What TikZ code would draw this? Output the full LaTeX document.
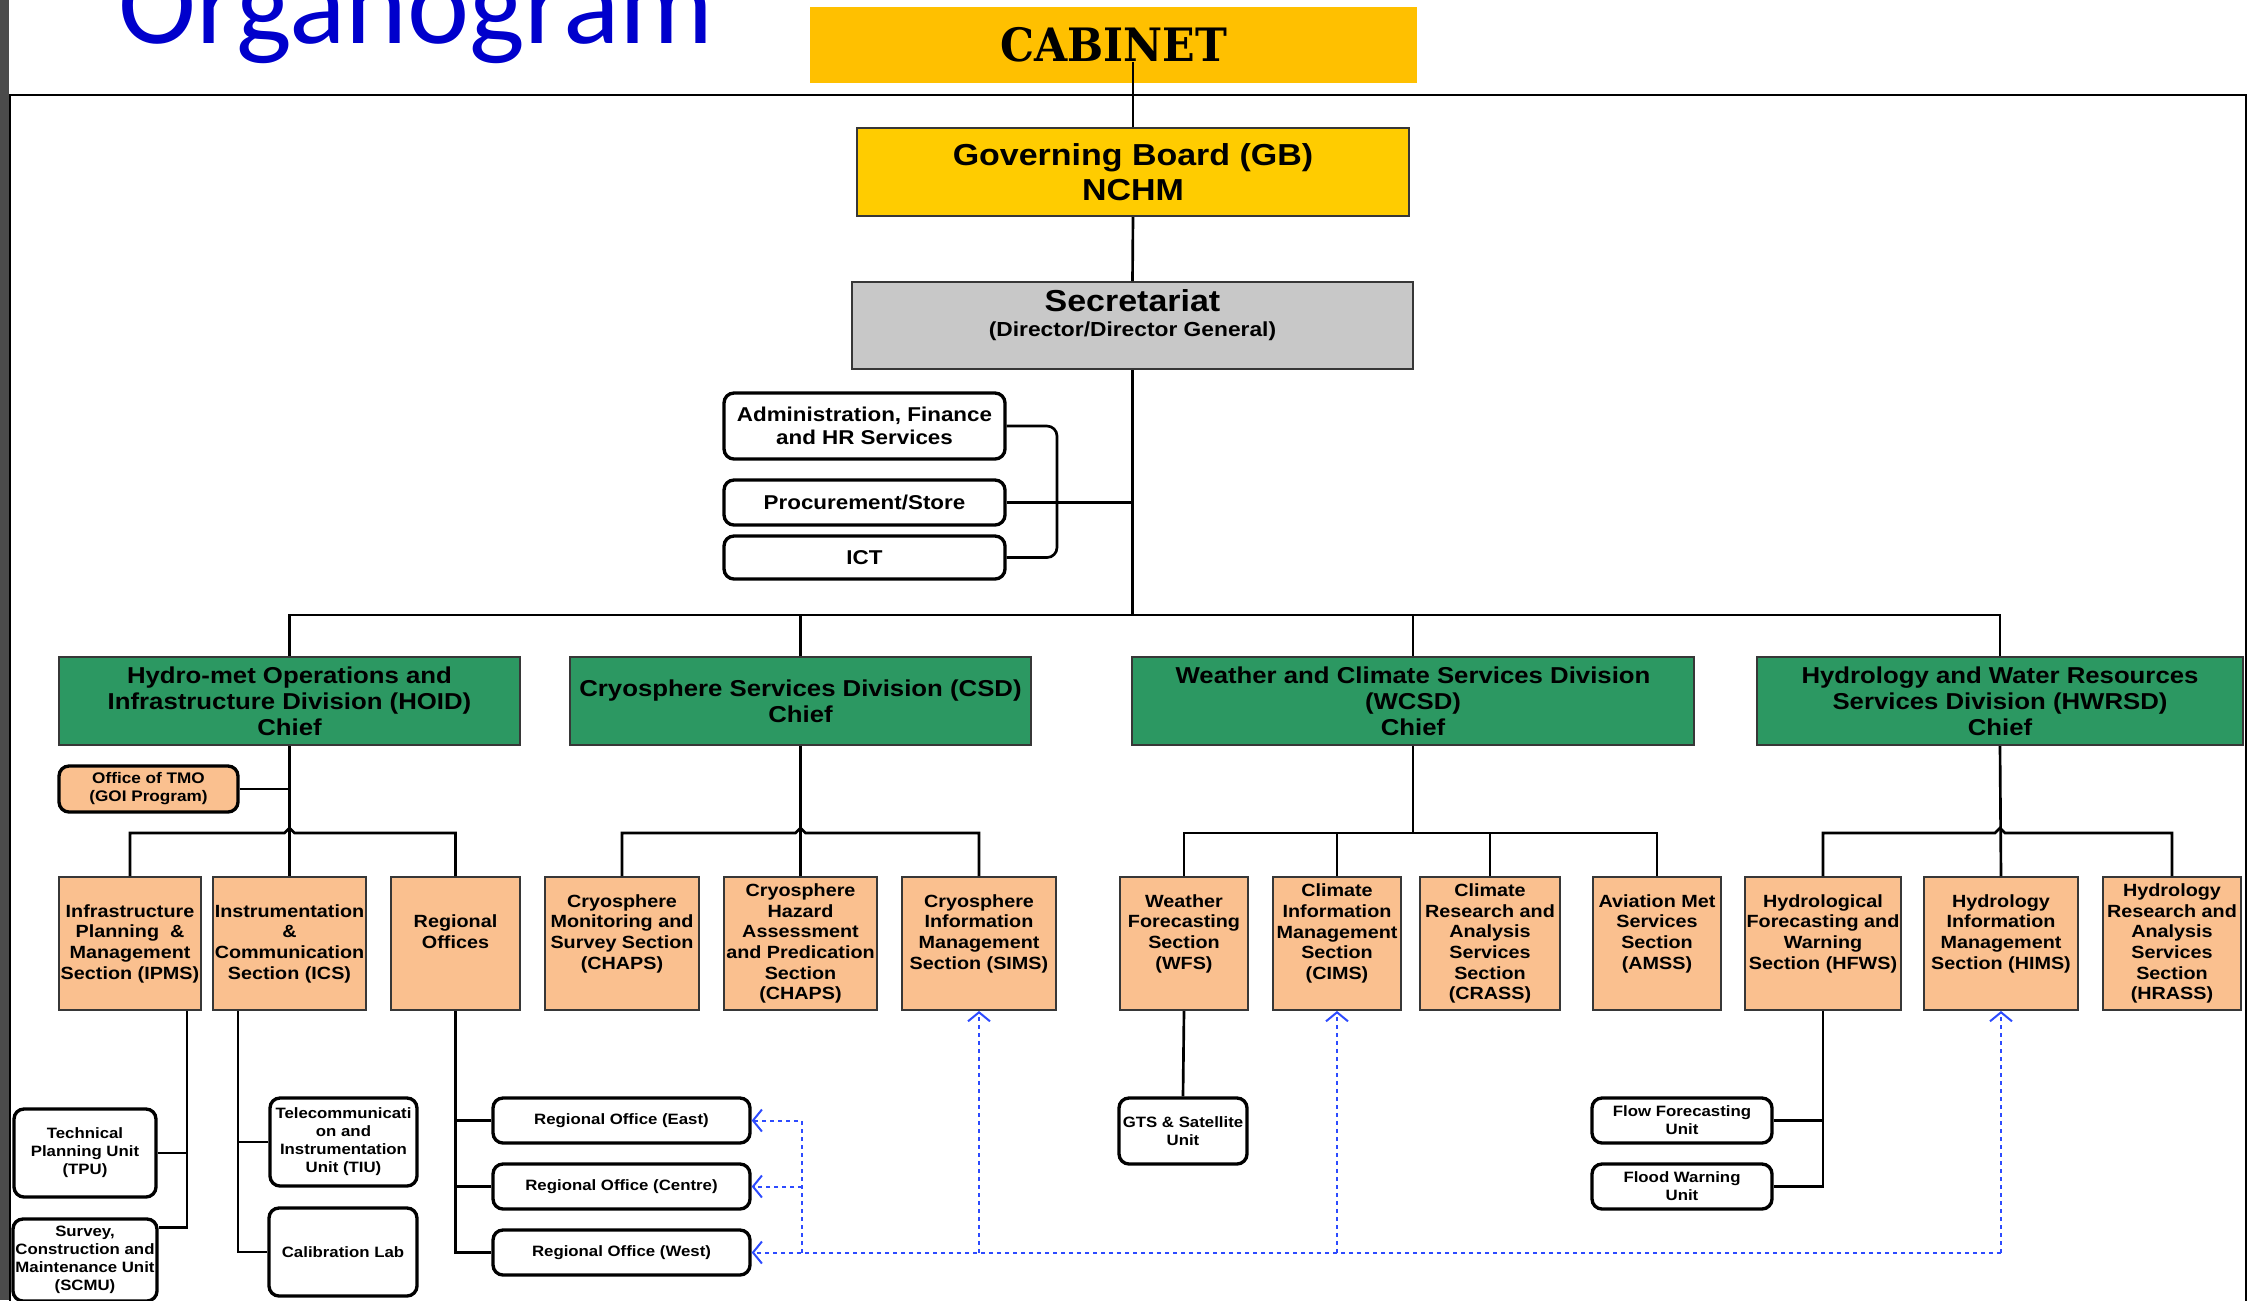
\documentclass[tikz,border=0pt]{standalone}
\usepackage{fontspec}
\usepackage{tikz}
\usetikzlibrary{arrows.meta,calc}
\newfontfamily\chartfont{Liberation Sans}[FakeStretch=1.12]
\newfontfamily\titlefont{Carlito}
\newfontfamily\cabfont{DejaVu Serif}[FakeStretch=0.93]
\definecolor{titleblue}{RGB}{0,0,204}
\definecolor{cabyellow}{RGB}{255,192,0}
\definecolor{gbyellow}{RGB}{255,204,0}
\definecolor{secgray}{RGB}{200,200,200}
\definecolor{divgreen}{RGB}{44,152,98}
\definecolor{sectorange}{RGB}{250,192,143}
\definecolor{linkblue}{RGB}{45,75,255}
\definecolor{edgegray}{RGB}{55,55,55}
\definecolor{stripgray}{RGB}{75,75,75}
\newcommand{\pxu}{0.3pt}
\newcommand{\gbfont}{\chartfont\bfseries\fontsize{9.1pt}{10.5pt}\selectfont}
\newcommand{\secbig}{\chartfont\bfseries\fontsize{9.1pt}{10.5pt}\selectfont}
\newcommand{\secsmall}{\chartfont\bfseries\fontsize{6.1pt}{7.5pt}\selectfont}
\newcommand{\admfont}{\chartfont\bfseries\fontsize{6.0pt}{6.8pt}\selectfont}
\newcommand{\divfont}{\chartfont\bfseries\fontsize{6.9pt}{7.8pt}\selectfont}
\newcommand{\sectfont}{\chartfont\bfseries\fontsize{5.3pt}{6.2pt}\selectfont}
\newcommand{\tmofont}{\chartfont\bfseries\fontsize{4.6pt}{5.4pt}\selectfont}
\newcommand{\unitfont}{\chartfont\bfseries\fontsize{4.5pt}{5.4pt}\selectfont}
\tikzstyle{conn}=[black,line width=0.8pt]
\tikzstyle{infolink}=[linkblue,line width=0.6pt,dash pattern=on 1.2pt off 1.2pt,-{Straight Barb[length=2.7pt,width=6.6pt]}]
\tikzstyle{plainbox}=[rectangle,draw=edgegray,line width=0.6pt,inner sep=0pt,align=center]
\tikzstyle{divbox}=[plainbox,fill=divgreen,font=\divfont]
\tikzstyle{sectbox}=[plainbox,fill=sectorange,font=\sectfont]
\tikzstyle{raised}=[text depth=7.1pt]
\tikzstyle{unitbox}=[rectangle,rounded corners=3pt,draw=black,line width=1pt,fill=white,inner sep=0pt,align=center,font=\unitfont]
\tikzset{wh/.style 2 args={minimum width=#1*\pxu,minimum height=#2*\pxu}}

\begin{document}
\begin{tikzpicture}[x=\pxu,y=-\pxu]

\useasboundingbox (0,0) rectangle (2248,1300);
\fill[stripgray] (0,0) rectangle (9,1300);
\draw[line width=0.6pt] (10,1310) -- (10,95) -- (2246,95) -- (2246,1310);

\node[anchor=base west,inner sep=0pt,text=titleblue,font=\titlefont\fontsize{35.3pt}{40pt}\selectfont] (title) at (118,43) {Organogram};
\node[fill=cabyellow,inner sep=0pt,wh={607}{76},font=\cabfont\bfseries\fontsize{13.8pt}{16pt}\selectfont] (cabinet) at (1113.5,45) {CABINET};

% board and secretariat
\node[plainbox,fill=gbyellow,wh={552}{88},font=\gbfont] (gb) at (1133,172) {Governing Board (GB)\\NCHM};
\node[plainbox,fill=secgray,wh={561}{87},font=\secsmall,text depth=7.3pt] (sec) at (1132.5,325.5) {{\secbig Secretariat}\\(Director/Director General)};
\node[unitbox,wh={281}{66},font=\admfont] (admin) at (864.5,426) {Administration, Finance\\and HR Services};
\node[unitbox,wh={281}{45},font=\admfont] (proc) at (864.5,502.5) {Procurement/Store};
\node[unitbox,wh={281}{43},font=\admfont] (ict) at (864.5,557.5) {ICT};

% divisions
\node[divbox,wh={461}{88}] (hoid) at (289.5,701) {Hydro-met Operations and\\Infrastructure Division (HOID)\\Chief};
\node[divbox,wh={461}{88}] (csd) at (800.5,701) {Cryosphere Services Division (CSD)\\Chief};
\node[divbox,wh={562}{88}] (wcsd) at (1413,701) {Weather and Climate Services Division\\(WCSD)\\Chief};
\node[divbox,wh={486}{88}] (hwrsd) at (2000,701) {Hydrology and Water Resources\\Services Division (HWRSD)\\Chief};
\node[unitbox,fill=sectorange,wh={179}{46},font=\tmofont] (tmo) at (148.5,789) {Office of TMO\\(GOI Program)};

% sections
\node[sectbox,wh={142}{133}] (ipms) at (130,943.5) {Infrastructure\\Planning\ \ \&\\Management\\Section (IPMS)};
\node[sectbox,wh={153}{133}] (ics) at (289.5,943.5) {Instrumentation\\\&\\Communication\\Section (ICS)};
\node[sectbox,raised,wh={129}{133}] (reg) at (455.5,943.5) {Regional\\Offices};
\node[sectbox,raised,wh={154}{133}] (chaps1) at (622,943.5) {Cryosphere\\Monitoring and\\Survey Section\\(CHAPS)};
\node[sectbox,wh={153}{133}] (chaps2) at (800.5,943.5) {Cryosphere\\Hazard\\Assessment\\and Predication\\Section\\(CHAPS)};
\node[sectbox,raised,wh={154}{133}] (sims) at (979,943.5) {Cryosphere\\Information\\Management\\Section (SIMS)};
\node[sectbox,raised,wh={128}{133}] (wfs) at (1184,943.5) {Weather\\Forecasting\\Section\\(WFS)};
\node[sectbox,raised,wh={128}{133}] (cims) at (1337,943.5) {Climate\\Information\\Management\\Section\\(CIMS)};
\node[sectbox,wh={140}{133}] (crass) at (1490,943.5) {Climate\\Research and\\Analysis\\Services\\Section\\(CRASS)};
\node[sectbox,raised,wh={128}{133}] (amss) at (1657,943.5) {Aviation Met\\Services\\Section\\(AMSS)};
\node[sectbox,raised,wh={156}{133}] (hfws) at (1823,943.5) {Hydrological\\Forecasting and\\Warning\\Section (HFWS)};
\node[sectbox,raised,wh={154}{133}] (hims) at (2001,943.5) {Hydrology\\Information\\Management\\Section (HIMS)};
\node[sectbox,wh={138}{133}] (hrass) at (2172,943.5) {Hydrology\\Research and\\Analysis\\Services\\Section\\(HRASS)};

% units
\node[unitbox,wh={142}{88}] (tpu) at (85,1153) {Technical\\Planning Unit\\(TPU)};
\node[unitbox,wh={144}{82}] (scmu) at (85,1260) {Survey,\\Construction and\\Maintenance Unit\\(SCMU)};
\node[unitbox,wh={147}{88}] (tiu) at (343.5,1142) {Telecommunicati\\on and\\Instrumentation\\Unit (TIU)};
\node[unitbox,wh={148}{88}] (cal) at (343,1252) {Calibration Lab};
\node[unitbox,wh={257}{45}] (east) at (621.5,1120.5) {Regional Office (East)};
\node[unitbox,wh={257}{45}] (centre) at (621.5,1186.5) {Regional Office (Centre)};
\node[unitbox,wh={257}{45}] (west) at (621.5,1252.5) {Regional Office (West)};
\node[unitbox,wh={128}{66}] (gts) at (1183,1131) {GTS \& Satellite\\Unit};
\node[unitbox,wh={180}{45}] (flowf) at (1682,1120.5) {Flow Forecasting\\Unit};
\node[unitbox,wh={180}{45}] (floodw) at (1682,1186.5) {Flood Warning\\Unit};

% upper connectors
\coordinate (bus) at (0,615);
\coordinate (sbus) at (0,833);
\coordinate (brk) at (1057,502);
\draw[conn] (gb.north) -- (gb.north |- cabinet.base);
\draw[conn] (gb.south) -- (sec.north);
\draw[conn] (sec.south) -- (sec.south |- bus);
\draw[conn,rounded corners=3pt] (admin.east) -| (brk) |- (ict.east);
\draw[conn] (proc.east) -- (proc.east -| sec.south);
\draw[conn] (hoid.north) |- (hwrsd.north |- bus) -- (hwrsd.north);
\draw[conn] (csd.north) -- (csd.north |- bus);
\draw[conn] (wcsd.north) -- (wcsd.north |- bus);
\draw[conn] (tmo.east) -- (tmo.east -| hoid.south);

% section buses
\draw[conn] (ipms.north) |- (284.5,833) -- (289.5,828) -- (294.5,833) -| (reg.north);
\draw[conn] (hoid.south) -- (ics.north);
\draw[conn] (chaps1.north) |- (795.5,833) -- (800.5,828) -- (805.5,833) -| (sims.north);
\draw[conn] (csd.south) -- (chaps2.north);
\draw[conn] (wfs.north) |- (amss.north |- sbus) -- (amss.north);
\draw[conn] (wcsd.south) -- (wcsd.south |- sbus);
\draw[conn] (cims.north) -- (cims.north |- sbus);
\draw[conn] (crass.north) -- (crass.north |- sbus);
\draw[conn] (hfws.north) |- (1995,833) -- (2000,828) -- (2005,833) -| (hrass.north);
\draw[conn] (hwrsd.south) -- (hims.north);

% unit legs
\coordinate (ipmsleg) at (187,0);
\coordinate (icsleg) at (238,0);
\draw[conn] (ipms.south -| ipmsleg) |- ($(scmu.north east)+(0,10)$);
\draw[conn] (tpu.east) -- (tpu.east -| ipmsleg);
\draw[conn] (ics.south -| icsleg) |- (cal.west);
\draw[conn] (tiu.west) -- (tiu.west -| icsleg);
\draw[conn] (reg.south) |- (west.west);
\draw[conn] (east.west) -- (east.west -| reg.south);
\draw[conn] (centre.west) -- (centre.west -| reg.south);
\draw[conn] (wfs.south) -- (gts.north);
\draw[conn] (hfws.south) |- (floodw.east);
\draw[conn] (flowf.east) -- (flowf.east -| hfws.south);

% information links
\coordinate (dturn) at (802,1252.5);
\draw[infolink] (hims.south |- west.east) -- (west.east);
\draw[infolink] (hims.south |- west.east) -- (hims.south);
\draw[infolink] (sims.south |- west.east) -- (sims.south);
\draw[infolink] (cims.south |- west.east) -- (cims.south);
\draw[infolink] (dturn) |- (east.east);
\draw[infolink] (dturn |- centre.east) -- (centre.east);

\end{tikzpicture}
\end{document}
